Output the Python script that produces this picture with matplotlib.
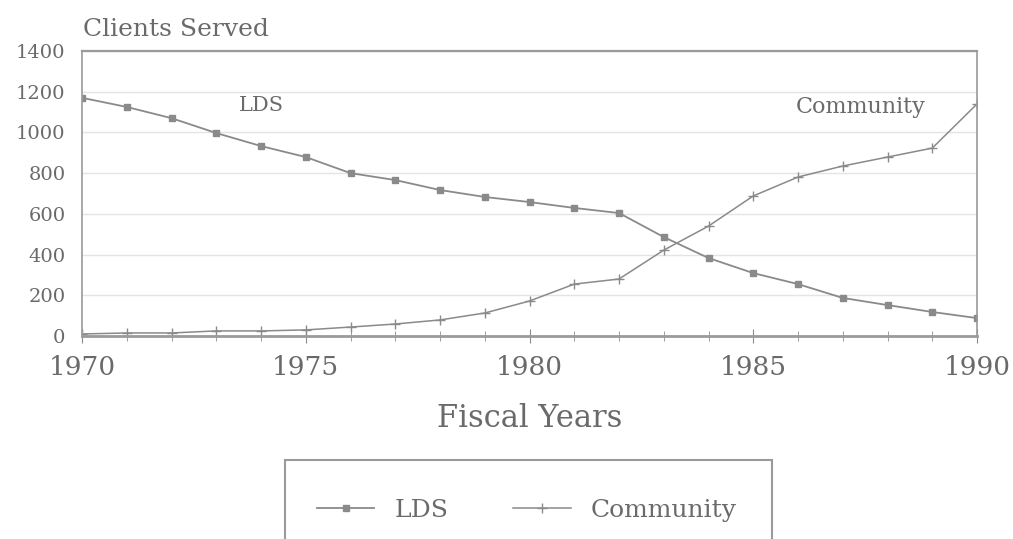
import matplotlib
matplotlib.use("Agg")
import matplotlib.pyplot as plt
from matplotlib.patches import Rectangle

years = list(range(1970, 1991))
lds = [1170, 1125, 1070, 997, 933, 879, 800, 766, 717, 683, 658,
       629, 604, 486, 383, 309, 255, 187, 152, 118, 88]
community = [10, 15, 15, 25, 25, 30, 44, 59, 79, 113, 172,
             255, 280, 422, 540, 688, 781, 835, 879, 923, 1140]

y_ticks = [0, 200, 400, 600, 800, 1000, 1200, 1400]
x_ticks = [1970, 1975, 1980, 1985, 1990]

plt.rcParams["font.family"] = "DejaVu Serif"
text_col = "#6a6a6a"
line_col = "#8a8a8a"

fig = plt.figure(figsize=(10.13, 5.39), dpi=100)
ax = fig.add_axes([0.081, 0.3766, 0.8835, 0.5288])

ax.plot(years, lds, color=line_col, lw=1.3, marker="s", ms=4,
        mfc=line_col, mec=line_col, label="LDS")
ax.plot(years, community, color=line_col, lw=1.1, marker="+", ms=7,
        mew=1.0, label="Community")

ax.set_xlim(1970, 1990)
ax.set_ylim(0, 1400)
ax.set_yticks(y_ticks)
ax.set_xticks(x_ticks)
ax.set_xticks(years, minor=True)
ax.grid(axis="y", color="#e4e4e4", lw=1.0)
ax.tick_params(axis="y", labelsize=14, colors=text_col, length=0, pad=12)
ax.tick_params(axis="x", which="major", labelsize=19, colors=text_col,
               direction="inout", length=10, color=line_col, pad=9)
ax.tick_params(axis="x", which="minor", direction="inout", length=7,
               color=line_col)
for s in ax.spines.values():
    s.set_color("#9a9a9a")
    s.set_linewidth(1.2)
ax.spines["top"].set_linewidth(1.6)
ax.spines["bottom"].set_linewidth(2.0)

ax.set_xlabel("Fiscal Years", fontsize=22, color=text_col, labelpad=16)
fig.text(0.082, 0.945, "Clients Served", fontsize=18, color=text_col,
         ha="left", va="center")
ax.text(1974.0, 1130, "LDS", fontsize=15, color=text_col, ha="center",
        va="center")
ax.text(1987.4, 1125, "Community", fontsize=16, color=text_col,
        ha="center", va="center")

# legend box running off the bottom of the figure
fig.patches.append(Rectangle((285 / 1013, -0.05), 487 / 1013, 0.05 + 79 / 539,
                             transform=fig.transFigure, fill=False,
                             edgecolor="#9a9a9a", lw=1.5))
leg = fig.legend(loc="center", bbox_to_anchor=(0.52, 0.053), ncol=2,
                 frameon=False, fontsize=18, handlelength=2.3,
                 columnspacing=2.6)
for t in leg.get_texts():
    t.set_color(text_col)

fig.savefig("out.png", dpi=100)
